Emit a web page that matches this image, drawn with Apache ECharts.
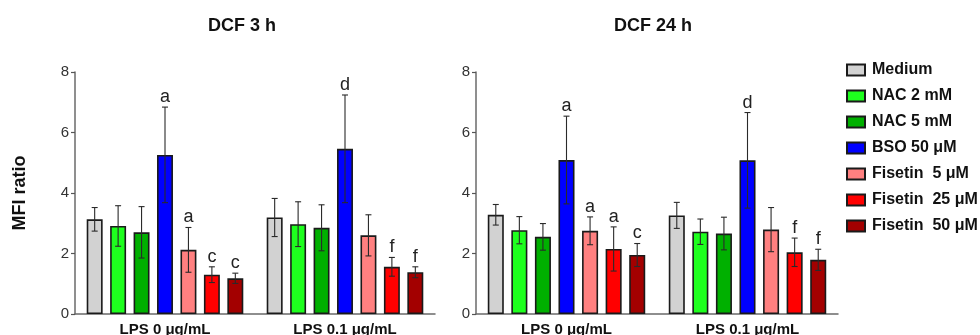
<!DOCTYPE html>
<html>
<head>
<meta charset="utf-8">
<script src="https://cdn.jsdelivr.net/npm/echarts@6/dist/echarts.min.js"></script>
<style>
  html, body { margin: 0; padding: 0; background: #fff; }
  #chart { width: 980px; height: 335px; }
</style>
</head>
<body>
<div id="chart"></div>
<script>
// ---- data ----
const categories = ['LPS 0 μg/mL', 'LPS 0.1 μg/mL'];
const treatments = ['Medium', 'NAC 2 mM', 'NAC 5 mM', 'BSO 50 μM', 'Fisetin  5 μM', 'Fisetin  25 μM', 'Fisetin  50 μM'];
const colors = ['#d2d2d2', '#1eff1e', '#00b000', '#0000ff', '#ff8080', '#ff0000', '#a30000'];
const panelTitles = ['DCF 3 h', 'DCF 24 h'];
const yTicks = [0, 2, 4, 6, 8];

// mean per treatment, [LPS 0, LPS 0.1]
const mean3h = [[3.13, 3.19], [2.91, 2.97], [2.70, 2.85], [5.26, 5.46], [2.12, 2.60], [1.30, 1.56], [1.18, 1.38]];
const err3h  = [[0.39, 0.63], [0.67, 0.74], [0.85, 0.76], [1.58, 1.78], [0.74, 0.68], [0.26, 0.31], [0.17, 0.18]];
const letters3h = [['', ''], ['', ''], ['', ''], ['a', 'd'], ['a', ''], ['c', 'f'], ['c', 'f']];

const mean24h = [[3.28, 3.26], [2.77, 2.72], [2.55, 2.66], [5.09, 5.08], [2.75, 2.79], [2.15, 2.04], [1.95, 1.79]];
const err24h  = [[0.34, 0.43], [0.45, 0.42], [0.44, 0.54], [1.45, 1.58], [0.46, 0.73], [0.73, 0.47], [0.38, 0.35]];
const letters24h = [['', ''], ['', ''], ['', ''], ['a', 'd'], ['a', ''], ['a', 'f'], ['c', 'f']];

// ---- chart ----
const FONT = '"Liberation Sans", Arial, sans-serif';
const CAT_GAP = 0.13, BAR_GAP = 0.47;

const panels = [
  { mean: mean3h, err: err3h, letters: letters3h },
  { mean: mean24h, err: err24h, letters: letters24h }
];

const grids = [
  { left: 75, top: 72, width: 360, height: 242, outerBoundsMode: 'none', containLabel: false },
  { left: 476, top: 72, width: 362, height: 242, outerBoundsMode: 'none', containLabel: false }
];

const xAxes = grids.map((g, gi) => ({
  type: 'category', gridIndex: gi, data: categories,
  axisLine: { lineStyle: { color: '#6a6a6a', width: 1.5 } },
  axisTick: { alignWithLabel: true, length: 5, lineStyle: { color: '#555', width: 1.2 } },
  axisLabel: { fontFamily: FONT, fontWeight: 'bold', fontSize: 15, color: '#111', margin: 8 }
}));

const yAxes = grids.map((g, gi) => ({
  type: 'value', gridIndex: gi, min: yTicks[0], max: yTicks[yTicks.length - 1], interval: 2,
  splitLine: { show: false },
  axisLine: { show: true, lineStyle: { color: '#6a6a6a', width: 1.5 } },
  axisTick: { show: true, length: 4, lineStyle: { color: '#555', width: 1.2 } },
  axisLabel: { fontFamily: FONT, fontSize: 15, color: '#333', margin: 6 },
  name: gi === 0 ? 'MFI ratio' : '',
  nameLocation: 'middle', nameGap: 46, nameRotate: 90,
  nameTextStyle: { fontFamily: FONT, fontWeight: 'bold', fontSize: 18, color: '#111' }
}));

const series = [];
panels.forEach((p, gi) => {
  treatments.forEach((t, j) => {
    series.push({
      type: 'bar', name: t, xAxisIndex: gi, yAxisIndex: gi,
      data: p.mean[j],
      barCategoryGap: (CAT_GAP * 100) + '%', barGap: (BAR_GAP * 100) + '%',
      itemStyle: { color: colors[j], borderColor: '#1a1a1a', borderWidth: 1.6 },
      emphasis: { disabled: true },
      silent: true
    });
  });
  const items = [];
  treatments.forEach((t, j) => {
    categories.forEach((c, i) => {
      items.push({ j: j, cat: i, mean: p.mean[j][i], err: p.err[j][i], letter: p.letters[j][i] });
    });
  });
  series.push({
    type: 'custom', xAxisIndex: gi, yAxisIndex: gi, z: 10, silent: true,
    data: items.map(it => [it.cat, it.mean + it.err]),
    renderItem: function (params, api) {
      const it = items[params.dataIndex];
      const c = api.coord([it.cat, it.mean]);
      const band = api.size([1, 0])[0];
      const bw = band * (1 - CAT_GAP) / (7 + 6 * BAR_GAP);
      const x = c[0] + (it.j - 3) * bw * (1 + BAR_GAP);
      const yt = api.coord([it.cat, it.mean + it.err])[1];
      const yb = api.coord([it.cat, it.mean - it.err])[1];
      const st = { stroke: '#2a2a2a', lineWidth: 1.1 };
      const children = [
        { type: 'line', shape: { x1: x, y1: yt, x2: x, y2: yb }, style: st },
        { type: 'line', shape: { x1: x - 3, y1: yt, x2: x + 3, y2: yt }, style: st },
        { type: 'line', shape: { x1: x - 3, y1: yb, x2: x + 3, y2: yb }, style: st }
      ];
      if (it.letter) {
        children.push({
          type: 'text',
          style: { text: it.letter, x: x, y: yt - 1, align: 'center', verticalAlign: 'bottom',
                   font: 'normal 18px ' + FONT, fill: '#222' }
        });
      }
      return { type: 'group', children: children };
    }
  });
});

const option = {
  animation: false,
  backgroundColor: '#fff',
  title: [
    { text: panelTitles[0], left: 237, top: 12, textAlign: 'center',
      textStyle: { fontFamily: FONT, fontWeight: 'bold', fontSize: 18, color: '#111' } },
    { text: panelTitles[1], left: 648, top: 12, textAlign: 'center',
      textStyle: { fontFamily: FONT, fontWeight: 'bold', fontSize: 18, color: '#111' } }
  ],
  legend: {
    data: treatments, orient: 'vertical', left: 846, top: 62,
    itemWidth: 18, itemHeight: 11, itemGap: 10, icon: 'rect',
    textStyle: { fontFamily: FONT, fontWeight: 'bold', fontSize: 16, color: '#111', padding: [0, 0, 0, 2] },
    selectedMode: false, padding: 0
  },
  grid: grids,
  xAxis: xAxes,
  yAxis: yAxes,
  series: series
};

const chart = echarts.init(document.getElementById('chart'), null, { renderer: 'canvas' });
chart.setOption(option);
</script>
</body>
</html>
